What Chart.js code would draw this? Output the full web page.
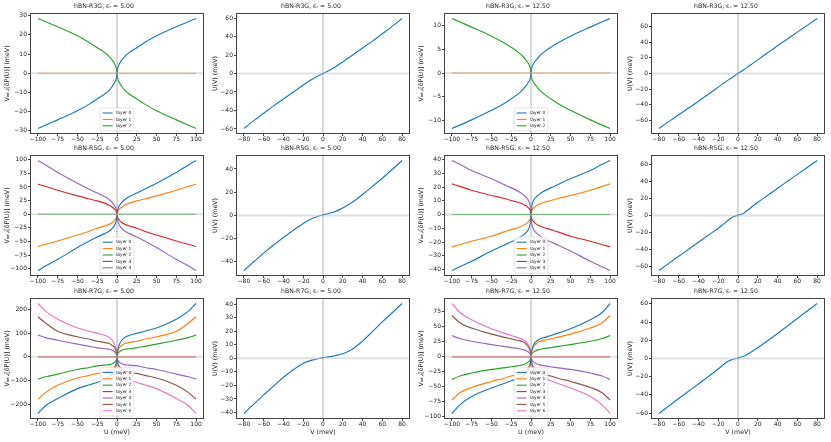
<!DOCTYPE html>
<html>
<head>
<meta charset="utf-8">
<script src="https://cdn.jsdelivr.net/npm/chart.js@4.4.0/dist/chart.umd.min.js"></script>
<style>
  body { margin: 0; background: #fff; }
  #fig { position: relative; width: 831px; height: 442px; overflow: hidden; }
  #fig canvas { position: absolute; }
</style>
</head>
<body>
<div id="fig"></div>
<script>
// gate values the curves were read at
const U_GRID = [-100, -90, -75, -50, -35, -25, -15, -10, -6, -3, -1, 0, 1, 3, 6, 10, 15, 25, 35, 50, 75, 90, 100];
const V_GRID = [-80, -70, -60, -50, -40, -30, -20, -15, -10, -5, 0, 5, 10, 15, 20, 30, 40, 50, 60, 70, 80];

// V_int,i per layer (meV), left panels
const R3G_E5_VINT = [
  [-28.8, -27, -24.3, -19.6, -16.1, -13.4, -10.7, -8.9, -6.9, -4.9, -2.8, 0, 2.8, 4.8, 6.8, 8.8, 10.6, 13.3, 16, 19.5, 24.2, 26.8, 28.5],
  [0, 0, 0, 0, 0, 0, 0, 0, 0, 0, 0, 0, 0, 0, 0, 0, 0, 0, 0, 0, 0, 0, 0],
  [28.5, 26.8, 24.2, 19.5, 16, 13.3, 10.6, 8.8, 6.8, 4.8, 2.8, 0, -2.8, -4.9, -6.9, -8.9, -10.7, -13.4, -16.1, -19.6, -24.3, -27, -28.8]
];
const R3G_E12_VINT = [
  [-11.6, -10.9, -9.8, -7.8, -6.5, -5.4, -4.2, -3.4, -2.6, -1.9, -1.1, 0, 1.1, 1.9, 2.6, 3.4, 4.2, 5.4, 6.4, 7.7, 9.6, 10.7, 11.4],
  [0, 0, 0, 0, 0, 0, 0, 0, 0, 0, 0, 0, 0, 0, 0, 0, 0, 0, 0, 0, 0, 0, 0],
  [11.4, 10.7, 9.6, 7.7, 6.4, 5.4, 4.2, 3.4, 2.6, 1.9, 1.1, 0, -1.1, -1.9, -2.6, -3.4, -4.2, -5.4, -6.5, -7.8, -9.8, -10.9, -11.6]
];
const R5G_E5_VINT = [
  [-103, -94.5, -82.6, -61, -49, -41.6, -35, -31, -26, -20, -12, -3, 9, 16, 22, 27, 32, 39, 46, 57, 76.5, 90, 98.5],
  [-59, -55, -49, -38, -31, -25.7, -21, -18.5, -15, -11, -6, -1, 5, 9.5, 13, 16.5, 20, 24.5, 28, 33.6, 44, 51, 55],
  [0, 0, 0, 0, 0, 0, 0, 0, 0, 0, 0, 0, 0, 0, 0, 0, 0, 0, 0, 0, 0, 0, 0],
  [55, 51, 44, 33.6, 28, 24.5, 20, 16.5, 13, 9.5, 5, -1, -6, -11, -15, -18.5, -21, -25.7, -31, -38, -49, -55, -59],
  [98.5, 90, 76.5, 57, 46, 39, 32, 27, 22, 16, 9, -3, -12, -20, -26, -31, -35, -41.6, -49, -61, -82.6, -94.5, -103]
];
const R5G_E12_VINT = [
  [-40.7, -38, -34, -26.5, -22.5, -19.8, -17, -15, -13, -10.5, -6.5, -0.5, 6, 10, 12.5, 14.5, 16.5, 19.4, 22, 26, 32, 36.5, 39.3],
  [-23.5, -22, -19.4, -15.8, -12.8, -11, -9.2, -8, -6.6, -5, -3, -0.3, 2.8, 4.6, 6.2, 7.5, 8.6, 10.2, 11.8, 13.8, 17.7, 20.5, 22.3],
  [0, 0, 0, 0, 0, 0, 0, 0, 0, 0, 0, 0, 0, 0, 0, 0, 0, 0, 0, 0, 0, 0, 0],
  [22.3, 20.5, 17.7, 13.8, 11.8, 10.2, 8.6, 7.5, 6.2, 4.6, 2.8, -0.3, -3, -5, -6.6, -8, -9.2, -11, -12.8, -15.8, -19.4, -22, -23.5],
  [39.3, 36.5, 32, 26, 22, 19.4, 16.5, 14.5, 12.5, 10, 6, -0.5, -6.5, -10.5, -13, -15, -17, -19.8, -22.5, -26.5, -34, -38, -40.7]
];
const R7G_E5_VINT = [
  [-239, -205, -176, -134, -118, -108, -96, -85, -72, -55, -32, 0, 30, 52, 70, 82, 90, 99, 108, 122, 159, 192, 225],
  [-179, -150, -120, -89, -78, -70, -64, -60, -52, -40, -24, 0, 22, 38, 48, 56, 60, 66, 74, 84.5, 108, 142, 169],
  [-94, -84, -73, -53.5, -45, -38, -35, -33, -29, -22, -13, 0, 12, 21, 28, 32, 34, 38, 44, 53.5, 70, 81, 91.5],
  [0, 0, 0, 0, 0, 0, 0, 0, 0, 0, 0, 0, 0, 0, 0, 0, 0, 0, 0, 0, 0, 0, 0],
  [91.5, 81, 70, 53.5, 44, 38, 34, 32, 28, 21, 12, 0, -13, -22, -29, -33, -35, -38, -45, -53.5, -73, -84, -94],
  [169, 142, 108, 84.5, 74, 66, 60, 56, 48, 38, 22, 0, -24, -40, -52, -60, -64, -70, -78, -89, -120, -150, -179],
  [225, 192, 159, 122, 108, 99, 90, 82, 70, 52, 30, 0, -32, -55, -72, -85, -96, -108, -118, -134, -176, -205, -239]
];
const R7G_E12_VINT = [
  [-94.5, -80, -66, -52, -45, -40, -35, -32, -27, -21, -12, 0, 11, 19, 25, 29, 31.5, 35.5, 40, 47, 62, 74, 89],
  [-72, -60, -51, -41, -36, -32, -29, -27, -23, -17, -10, 0, 9, 16, 21, 25, 27, 30, 33, 38, 48, 57, 69],
  [-37.8, -32, -27, -21, -18.5, -16.5, -14.5, -13, -11, -8, -5, 0, 4.5, 7.5, 10, 12, 13.5, 15.5, 17.5, 20.5, 26, 30.5, 35.5],
  [0, 0, 0, 0, 0, 0, 0, 0, 0, 0, 0, 0, 0, 0, 0, 0, 0, 0, 0, 0, 0, 0, 0],
  [35.5, 30.5, 26, 20.5, 17.5, 15.5, 13.5, 12, 10, 7.5, 4.5, 0, -5, -8, -11, -13, -14.5, -16.5, -18.5, -21, -27, -32, -37.8],
  [69, 57, 48, 38, 33, 30, 27, 25, 21, 16, 9, 0, -10, -17, -23, -27, -29, -32, -36, -41, -51, -60, -72],
  [89, 74, 62, 47, 40, 35.5, 31.5, 29, 25, 19, 11, 0, -12, -21, -27, -32, -35, -40, -45, -52, -66, -80, -94.5]
];

// U(V) in meV, right panels
const R3G_E5_U = [-59.5, -51, -43, -35, -27.5, -20, -12.5, -9, -5.7, -2.7, 0, 2.7, 5.7, 9, 12.5, 20, 27.5, 35, 43, 51, 59.5];
const R3G_E12_U = [-70.5, -61.7, -53, -44.2, -35.5, -26.5, -17.5, -13, -8.5, -4.2, 0, 4.2, 8.5, 13, 17.5, 26.5, 35.5, 44.2, 53, 61.7, 70.5];
const R5G_E5_U = [-47.5, -40, -32.5, -25.5, -19, -12.8, -7, -4.5, -2.3, -0.7, 0.5, 1.4, 2.7, 4.3, 6.3, 11.5, 18, 25, 32, 39.5, 47.3];
const R5G_E12_U = [-65, -56.6, -48.2, -39.9, -31.6, -23.3, -15, -10.5, -5.6, -1.6, 0.4, 2.2, 6.3, 11.2, 15.6, 23.9, 32.2, 40.4, 48.6, 56.8, 65];
const R7G_E5_U = [-40.7, -33.8, -27, -20.5, -14, -8.4, -3.8, -2.3, -1.2, -0.3, 0.5, 1, 1.6, 2.3, 3.3, 6.8, 12.7, 19.7, 26.8, 33.6, 40.4];
const R7G_E12_U = [-60.4, -52.2, -44, -36, -28, -19.8, -11.5, -7, -3, -0.8, 0.6, 2.2, 5, 8.3, 11.9, 19.5, 27.5, 35.7, 44, 52.2, 60.4];

const TITLES = [
  'hBN-R3G, εᵣ = 5.00', 'hBN-R3G, εᵣ = 12.50',
  'hBN-R5G, εᵣ = 5.00', 'hBN-R5G, εᵣ = 12.50',
  'hBN-R7G, εᵣ = 5.00', 'hBN-R7G, εᵣ = 12.50'
];
const Y_LABEL_VINT = 'Vᵢₙₜ,ᵢ[δP(U)] (meV)';
const Y_LABEL_U = 'U(V) (meV)';
const X_LABEL_U = 'U (meV)';
const X_LABEL_V = 'V (meV)';
// tick steps per panel, row by row
const Y_STEPS = [10, 20, 5, 20, 25, 20, 10, 20, 100, 10, 25, 20];

const COLORS = ['#1f77b4', '#ff7f0e', '#2ca02c', '#d62728', '#9467bd', '#8c564b', '#e377c2'];

// page layout of the plot areas
const COL_LEFT = [30, 236, 444, 651];
const COL_YW = [26, 24, 26, 24];
const ROW_TOP = [13, 155, 298];
const PLOT_W = 174, PLOT_H = 121, PAD_R = 4, TITLE_H = 10;

Chart.defaults.font.family = '"DejaVu Sans", sans-serif';
Chart.defaults.color = '#222';

const PANELS = [
  { row: 0, col: 0, title: TITLES[0], x: U_GRID, series: R3G_E5_VINT },
  { row: 0, col: 1, title: TITLES[0], x: V_GRID, series: [R3G_E5_U] },
  { row: 0, col: 2, title: TITLES[1], x: U_GRID, series: R3G_E12_VINT },
  { row: 0, col: 3, title: TITLES[1], x: V_GRID, series: [R3G_E12_U] },
  { row: 1, col: 0, title: TITLES[2], x: U_GRID, series: R5G_E5_VINT },
  { row: 1, col: 1, title: TITLES[2], x: V_GRID, series: [R5G_E5_U] },
  { row: 1, col: 2, title: TITLES[3], x: U_GRID, series: R5G_E12_VINT },
  { row: 1, col: 3, title: TITLES[3], x: V_GRID, series: [R5G_E12_U] },
  { row: 2, col: 0, title: TITLES[4], x: U_GRID, series: R7G_E5_VINT },
  { row: 2, col: 1, title: TITLES[4], x: V_GRID, series: [R7G_E5_U] },
  { row: 2, col: 2, title: TITLES[5], x: U_GRID, series: R7G_E12_VINT },
  { row: 2, col: 3, title: TITLES[5], x: V_GRID, series: [R7G_E12_U] }
];

// matplotlib-like autoscale with 5% margins
function padRange(vals) {
  const lo = Math.min(...vals), hi = Math.max(...vals);
  const m = (hi - lo) * 0.05;
  return [lo - m, hi + m];
}

function fmtTick(v) {
  return v < 0 ? '\u2212' + (-v) : String(v);
}

function stepTicks(step) {
  return axis => {
    const ticks = [];
    for (let v = Math.ceil(axis.min / step) * step; v <= axis.max + 1e-9; v += step) {
      ticks.push({ value: Math.round(v * 1000) / 1000 });
    }
    axis.ticks = ticks;
  };
}

// zero lines, box spines and an in-axes legend
const panelDecor = {
  id: 'panelDecor',
  afterDatasetsDraw(chart) {
    const { ctx, chartArea: a, scales: { x, y } } = chart;
    ctx.save();
    ctx.beginPath();
    ctx.rect(a.left, a.top, a.width, a.height);
    ctx.clip();
    const y0 = y.getPixelForValue(0);
    ctx.strokeStyle = 'rgba(200,200,200,0.55)';
    ctx.lineWidth = 2;
    ctx.beginPath(); ctx.moveTo(a.left, y0); ctx.lineTo(a.right, y0); ctx.stroke();
    const x0 = x.getPixelForValue(0);
    ctx.strokeStyle = 'rgba(128,128,128,0.6)';
    ctx.lineWidth = 1;
    ctx.beginPath(); ctx.moveTo(x0, a.top); ctx.lineTo(x0, a.bottom); ctx.stroke();
    ctx.restore();
  },
  afterDraw(chart, args, opts) {
    const { ctx, chartArea: a } = chart;
    ctx.save();
    ctx.strokeStyle = '#444';
    ctx.lineWidth = 1;
    ctx.strokeRect(a.left + 0.5, a.top + 0.5, a.width - 1, a.height - 1);

    if (opts.legend) {
      const fs = 4.4, rowH = 6.4, padX = 2.5, padY = 2, hl = 10, gap = 3.5;
      ctx.font = fs + 'px "DejaVu Sans"';
      const items = chart.data.datasets;
      const tw = Math.max(...items.map(d => ctx.measureText(d.label).width));
      const w = padX * 2 + hl + gap + tw, h = padY * 2 + rowH * items.length;
      const bx = (a.left + a.right) / 2 - w / 2, by = a.bottom - 3 - h;
      ctx.fillStyle = 'rgba(255,255,255,0.8)';
      ctx.strokeStyle = '#d0d0d0';
      ctx.lineWidth = 0.6;
      ctx.beginPath();
      ctx.roundRect(bx, by, w, h, 1.5);
      ctx.fill();
      ctx.stroke();
      ctx.textBaseline = 'middle';
      ctx.textAlign = 'left';
      items.forEach((d, i) => {
        const cy = by + padY + rowH * (i + 0.5);
        ctx.strokeStyle = d.borderColor;
        ctx.lineWidth = 1.1;
        ctx.beginPath(); ctx.moveTo(bx + padX, cy); ctx.lineTo(bx + padX + hl, cy); ctx.stroke();
        ctx.fillStyle = '#222';
        ctx.fillText(d.label, bx + padX + hl + gap, cy);
      });
    }
    ctx.restore();
  }
};

const fig = document.getElementById('fig');
PANELS.forEach((p, idx) => drawPanel(p, idx));

function drawPanel(p, idx) {
  const isLeft = p.col % 2 === 0;
  const yw = COL_YW[p.col];
  const xh = p.row === 2 ? 23 : 12;
  const canvas = document.createElement('canvas');
  canvas.width = yw + PLOT_W + PAD_R;
  canvas.height = TITLE_H + PLOT_H + xh;
  canvas.style.left = (COL_LEFT[p.col] - yw) + 'px';
  canvas.style.top = (ROW_TOP[p.row] - TITLE_H) + 'px';
  fig.appendChild(canvas);

  const datasets = p.series.map((ys, i) => ({
    label: 'layer ' + i,
    data: p.x.map((xv, j) => ({ x: xv, y: ys[j] })),
    borderColor: COLORS[i],
    borderWidth: 1.15,
    pointRadius: 0,
    fill: false,
    cubicInterpolationMode: 'monotone'
  }));

  const [xmin, xmax] = padRange(p.x);
  const [ymin, ymax] = padRange(p.series.flat());

  new Chart(canvas, {
    type: 'line',
    data: { datasets },
    options: {
      responsive: false,
      animation: false,
      events: [],
      layout: { padding: { left: 0, right: PAD_R, top: 0, bottom: 0 } },
      plugins: {
        legend: { display: false },
        tooltip: { enabled: false },
        title: {
          display: true,
          text: p.title,
          color: '#222',
          font: { size: 6.2, lineHeight: 1.2, weight: 'normal' },
          padding: { top: 0, bottom: 2.56 }
        },
        panelDecor: { legend: isLeft }
      },
      scales: {
        x: {
          type: 'linear',
          min: xmin,
          max: xmax,
          afterFit: s => { s.height = xh; },
          afterBuildTicks: stepTicks(isLeft ? 25 : 20),
          ticks: {
            autoSkip: false, maxRotation: 0, padding: 0, color: '#222',
            font: { size: 6, lineHeight: 1 },
            callback: fmtTick
          },
          grid: { drawOnChartArea: false, tickLength: 2, color: '#444' },
          border: { display: false },
          title: {
            display: p.row === 2,
            text: isLeft ? X_LABEL_U : X_LABEL_V,
            color: '#222',
            font: { size: 6.3, lineHeight: 1.2 },
            padding: { top: 0, bottom: 6.2 }
          }
        },
        y: {
          type: 'linear',
          min: ymin,
          max: ymax,
          afterFit: s => { s.width = yw; },
          afterBuildTicks: stepTicks(Y_STEPS[idx]),
          ticks: {
            autoSkip: false, padding: 1, color: '#222',
            font: { size: 6, lineHeight: 1 },
            callback: fmtTick
          },
          grid: { drawOnChartArea: false, tickLength: 2, color: '#444' },
          border: { display: false },
          title: {
            display: true,
            text: isLeft ? Y_LABEL_VINT : Y_LABEL_U,
            color: '#222',
            font: { size: 6.3, lineHeight: 1.2 },
            padding: { top: 0, bottom: 0 }
          }
        }
      }
    },
    plugins: [panelDecor]
  });
}
</script>
</body>
</html>
